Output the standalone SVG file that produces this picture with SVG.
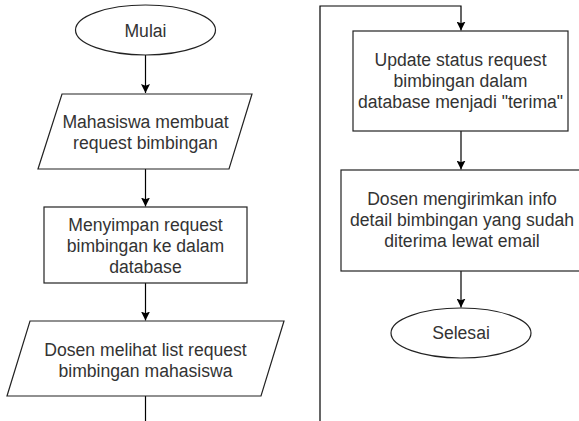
<svg xmlns="http://www.w3.org/2000/svg" width="579" height="421" viewBox="0 0 579 421">
<style>
.shape{fill:#fff;stroke:#222;stroke-width:1.2}
.lbl{font-family:"Liberation Sans",Arial,Helvetica,sans-serif;font-size:17.6px;fill:#333;text-anchor:middle}
.conn{fill:none;stroke:#000;stroke-width:1.2}
</style>
<defs>
<marker id="arr" viewBox="0 0 10 10" refX="10" refY="5" markerWidth="9" markerHeight="9" markerUnits="userSpaceOnUse" orient="auto">
<path d="M0,0 L10,5 L0,10 L2,5 z" fill="#000"/>
</marker>
</defs>
<rect width="579" height="421" fill="#fff"/>
<g id="connectors">
<path class="conn" d="M145.5,55 V93" marker-end="url(#arr)"/>
<path class="conn" d="M145.5,169 V206.5" marker-end="url(#arr)"/>
<path class="conn" d="M145.5,283 V320.5" marker-end="url(#arr)"/>
<path class="conn" d="M145.5,396 V422"/>
<path class="conn" d="M320,422 V6 H461 V30.5" marker-end="url(#arr)"/>
<path class="conn" d="M461,131 V169.5" marker-end="url(#arr)"/>
<path class="conn" d="M461,271 V307.5" marker-end="url(#arr)"/>
</g>
<g id="mulai">
<ellipse class="shape" cx="145.5" cy="30" rx="70" ry="25"/>
<text class="lbl" x="145.5" y="36.5">Mulai</text>
</g>
<g id="membuat-request">
<polygon class="shape" points="62,94 252,94 229,169 38,169"/>
<text class="lbl" x="145.5" y="128">Mahasiswa membuat</text>
<text class="lbl" x="145.5" y="149">request bimbingan</text>
</g>
<g id="menyimpan-request">
<rect class="shape" x="44" y="207" width="203" height="76"/>
<text class="lbl" x="145.5" y="231">Menyimpan request</text>
<text class="lbl" x="145.5" y="252">bimbingan ke dalam</text>
<text class="lbl" x="145.5" y="273">database</text>
</g>
<g id="dosen-melihat">
<polygon class="shape" points="30,321 284,321 261,396 7,396"/>
<text class="lbl" x="145.5" y="356">Dosen melihat list request</text>
<text class="lbl" x="145.5" y="377">bimbingan mahasiswa</text>
</g>
<g id="update-status">
<rect class="shape" x="353" y="31" width="215" height="100"/>
<text class="lbl" x="460.5" y="66">Update status request</text>
<text class="lbl" x="460.5" y="87">bimbingan dalam</text>
<text class="lbl" x="460.5" y="108">database menjadi "terima"</text>
</g>
<g id="kirim-info">
<rect class="shape" x="341" y="170" width="242" height="101"/>
<text class="lbl" x="462" y="205">Dosen mengirimkan info</text>
<text class="lbl" x="462" y="226">detail bimbingan yang sudah</text>
<text class="lbl" x="462" y="247">diterima lewat email</text>
</g>
<g id="selesai">
<ellipse class="shape" cx="461" cy="333" rx="70" ry="25"/>
<text class="lbl" x="461" y="339">Selesai</text>
</g>
</svg>
